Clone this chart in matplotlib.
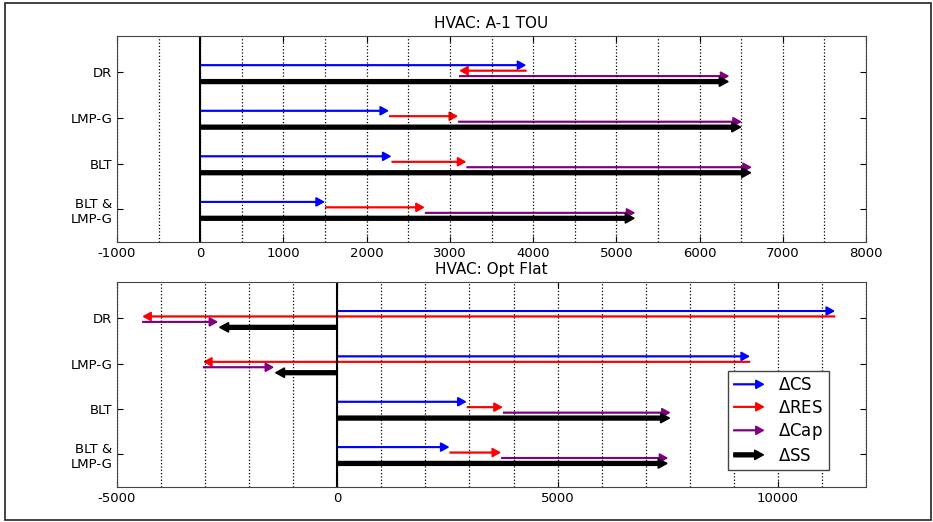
import matplotlib
matplotlib.use("Agg")
import matplotlib.pyplot as plt
from matplotlib.patches import FancyArrowPatch, Rectangle
from matplotlib.legend_handler import HandlerBase
from matplotlib.lines import Line2D
from matplotlib.ticker import MultipleLocator

plt.rcParams['axes.unicode_minus'] = False

# Programs (top to bottom)
programs = ["DR", "LMP-G", "BLT", "BLT &\nLMP-G"]

# HVAC: A-1 TOU  -- changes in surplus
tou_cs = [3920, 2270, 2300, 1500]
tou_res = [-810, 830, 900, 1200]
tou_cap = [3250, 3410, 3430, 2530]
tou_ss = [6360, 6510, 6630, 5230]

# HVAC: Opt Flat
flat_cs = [11300, 9370, 2940, 2550]
flat_res = [-15730, -12420, 820, 1170]
flat_cap = [1730, 1620, 3810, 3795]
flat_ss = [-2700, -1430, 7570, 7515]

series_names = [r"$\Delta$CS", r"$\Delta$RES", r"$\Delta$Cap", r"$\Delta$SS"]
series_colors = ["blue", "red", "purple", "black"]
series_widths = [1.5, 1.5, 1.5, 3.8]
offsets = [-0.16, -0.04, 0.08, 0.20]

HEAD = "-|>,head_length=0.55,head_width=0.3"


def arrow_parts(p0, p1, color, lw):
    # thick shaft stops at the head base, head drawn with a thin outline
    head_pts = 5.5 if lw < 2 else 6.5
    scale = 10 if lw < 2 else 11.5
    shaft = FancyArrowPatch(p0, p1, arrowstyle="-", color=color, lw=lw,
                            shrinkA=0, shrinkB=head_pts * 0.9, capstyle="butt")
    head = FancyArrowPatch(p0, p1, arrowstyle=HEAD, mutation_scale=scale,
                           color=color, lw=1.0, shrinkA=0, shrinkB=0,
                           joinstyle="miter", capstyle="butt")
    return [shaft, head]


def draw_arrow(ax, x0, x1, y, color, lw):
    for p in arrow_parts((x0, y), (x1, y), color, lw):
        ax.add_patch(p)


class ArrowHandler(HandlerBase):
    def create_artists(self, legend, orig_handle, xdescent, ydescent,
                       width, height, fontsize, trans):
        yc = height / 2 - ydescent
        parts = arrow_parts((-xdescent, yc), (width - xdescent, yc),
                            orig_handle.get_color(), orig_handle.get_linewidth())
        for p in parts:
            p.set_transform(trans)
        return parts


def plot_panel(ax, title, cs, res, cap, ss, xlim, major, minor):
    for i in range(len(programs)):
        starts = [0, cs[i], cs[i] + res[i], 0]
        ends = [cs[i], cs[i] + res[i], cs[i] + res[i] + cap[i], ss[i]]
        for k in range(4):
            draw_arrow(ax, starts[k], ends[k], i + offsets[k],
                       series_colors[k], series_widths[k])
    ax.axvline(0, color="black", lw=1.5, zorder=1)
    ax.set_xlim(*xlim)
    ax.set_ylim(3.72, -0.8)
    ax.set_yticks(range(len(programs)))
    ax.set_yticklabels(programs, fontsize=9.5)
    ax.xaxis.set_major_locator(MultipleLocator(major))
    ax.xaxis.set_minor_locator(MultipleLocator(minor))
    ax.grid(True, axis="x", which="both", linestyle=":", color="black", lw=0.9)
    ax.tick_params(axis="both", which="major", direction="in", length=4,
                   top=True, right=True, labelsize=9.5)
    ax.tick_params(axis="x", which="minor", direction="in", length=0)
    for s in ax.spines.values():
        s.set_color("#444444")
    ax.set_title(title, fontsize=11, pad=6)


fig = plt.figure(figsize=(9.33, 5.22), dpi=100)
fig.patches.append(Rectangle((0.005, 0.003), 0.993, 0.991, transform=fig.transFigure,
                             fill=False, edgecolor="#222222", lw=1.2))

ax1 = fig.add_axes([0.1254, 0.5364, 0.8028, 0.3946])
ax2 = fig.add_axes([0.1254, 0.0670, 0.8028, 0.3928])

plot_panel(ax1, "HVAC: A-1 TOU", tou_cs, tou_res, tou_cap, tou_ss,
           (-1000, 8000), 1000, 500)
plot_panel(ax2, "HVAC: Opt Flat", flat_cs, flat_res, flat_cap, flat_ss,
           (-5000, 12000), 5000, 1000)

handles = [Line2D([], [], color=c, lw=w) for c, w in zip(series_colors, series_widths)]
leg = ax2.legend(handles, series_names, loc="lower right",
                 bbox_to_anchor=(0.95, 0.083), borderaxespad=0,
                 handler_map={Line2D: ArrowHandler()}, fontsize=12,
                 fancybox=False, framealpha=1, handlelength=1.9,
                 handletextpad=0.8, labelspacing=0.27, borderpad=0.32)
leg.get_frame().set_edgecolor("#444444")

fig.savefig("out.png", dpi=100)
